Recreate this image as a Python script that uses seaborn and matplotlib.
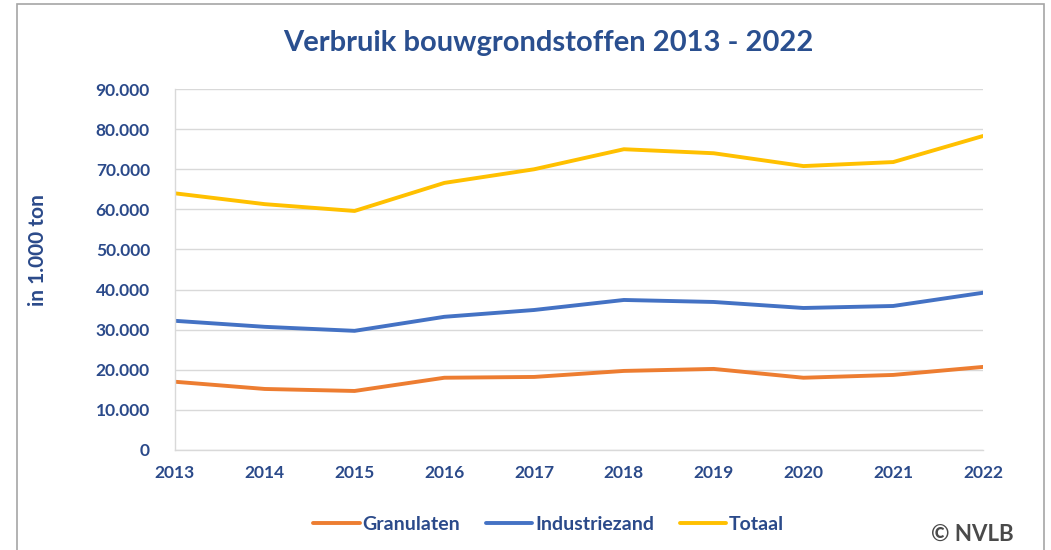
import matplotlib
matplotlib.use("Agg")
import matplotlib.pyplot as plt
import matplotlib.ticker as mticker
from matplotlib.lines import Line2D
from matplotlib.patches import Rectangle
import seaborn as sns
import pandas as pd

# data (in 1.000 ton)
jaren = [2013, 2014, 2015, 2016, 2017, 2018, 2019, 2020, 2021, 2022]
granulaten = [17000, 15200, 14700, 18000, 18200, 19700, 20200, 18000, 18700, 20700]
industriezand = [32200, 30700, 29700, 33200, 34900, 37400, 36900, 35400, 35900, 39200]
totaal = [64000, 61300, 59600, 66600, 70000, 75000, 74000, 70800, 71800, 78300]
reeksen = ["Granulaten", "Industriezand", "Totaal"]
kleuren = ["#ED7D31", "#4472C4", "#FFC000"]

df = pd.DataFrame({"jaar": jaren, "Granulaten": granulaten,
                   "Industriezand": industriezand, "Totaal": totaal})
lang = df.melt(id_vars="jaar", var_name="reeks", value_name="waarde")

sns.set_style("white")
plt.rcParams["font.family"] = ["Lato", "DejaVu Sans"]
tekst = "#2B4A8A"

fig = plt.figure(figsize=(10.51, 5.5), dpi=100)
ax = fig.add_axes([0.1665, 0.182, 0.7688, 0.656])

sns.lineplot(data=lang, x="jaar", y="waarde", hue="reeks", hue_order=reeksen,
             palette=kleuren, linewidth=2.8, legend=False, ax=ax)

ax.set_xlim(2013, 2022)
ax.set_ylim(0, 90000)
ax.set_xticks(jaren)
ax.set_yticks(range(0, 90001, 10000))
ax.yaxis.set_major_formatter(mticker.FuncFormatter(lambda v, p: f"{int(v):,}".replace(",", ".")))
ax.set_xlabel("")
ax.set_ylabel("")
ax.grid(axis="y", color="#D9D9D9", linewidth=1)
ax.set_axisbelow(True)
for s in ["top", "right"]:
    ax.spines[s].set_visible(False)
for s in ["left", "bottom"]:
    ax.spines[s].set_color("#D9D9D9")
    ax.spines[s].set_linewidth(1)
ax.tick_params(axis="x", direction="out", length=5, color="#D9D9D9", pad=6,
               labelsize=12.5, labelcolor=tekst)
ax.tick_params(axis="y", length=0, pad=18, labelsize=12.5, labelcolor=tekst)
for lab in ax.get_xticklabels() + ax.get_yticklabels():
    lab.set_fontweight("bold")

fig.text(0.036, 0.545, "in 1.000 ton", rotation=90, ha="center", va="center",
         fontsize=15, fontweight="bold", color=tekst)

fig.text(0.522, 0.922, "Verbruik bouwgrondstoffen 2013 - 2022", ha="center", va="center",
         fontsize=21, fontweight="bold", color="#2A4F8F")

handles = [Line2D([], [], color=c, linewidth=2.8) for c in kleuren]
leg = fig.legend(handles, reeksen, loc="center", bbox_to_anchor=(0.522, 0.046), ncol=3,
                 frameon=False, handlelength=2.4, handletextpad=0.15, columnspacing=1.3,
                 prop={"size": 14, "weight": "bold"})
for t in leg.get_texts():
    t.set_color(tekst)

fig.text(0.925, 0.028, "© NVLB", ha="center", va="center", fontsize=16,
         fontweight="bold", color="#4A4A4A")

fig.patches.append(Rectangle((0.0162, -0.02), 0.977, 1.013, transform=fig.transFigure,
                             fill=False, edgecolor="#A6A6A6", linewidth=1.2))

fig.savefig("out.png", dpi=100)
